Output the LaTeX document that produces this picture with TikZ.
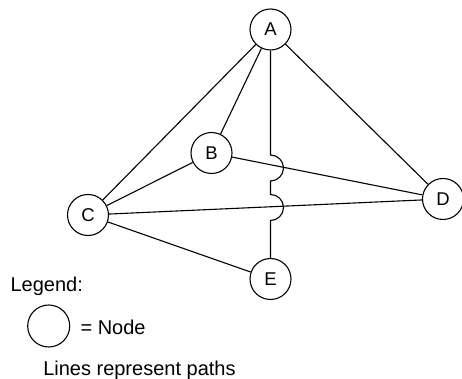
\documentclass[tikz,border=0pt]{standalone}
\usepackage{fontspec}
\setmainfont{Liberation Sans}
\begin{document}
\begin{tikzpicture}[x=1pt,y=1pt,line width=1.1pt,
  vtx/.style={circle,draw,minimum size=41pt,inner sep=0pt,font=\fontsize{18.5}{22}\selectfont},
  lbl/.style={anchor=base west,inner sep=0pt,font=\fontsize{20}{24}\selectfont}]
\useasboundingbox (0,0) rectangle (462,379);
\node[vtx] (A) at (270.5,349.5) {A};
\node[vtx] (B) at (211.5,226) {B};
\node[vtx] (C) at (88,164) {C};
\node[vtx] (D) at (443,180) {D};
\node[vtx] (E) at (270.5,100) {E};
\draw (A) -- (B);
\draw (A) -- (C);
\draw (A) -- (D);
\draw (B) -- (C);
\draw (B) -- (D);
\draw (C) -- (D);
\draw (C) -- (E);
\coordinate (j1) at (270.5,224);
\coordinate (j2) at (270.5,184.5);
\draw (A.south) -- (j1) arc[start angle=90,end angle=-90,radius=13]
  -- (j2) arc[start angle=90,end angle=-90,radius=13] -- (E.north);
\node[lbl] (leg) at (10,87.3) {Legend:};
\node[circle,draw,minimum size=42pt,inner sep=0pt] (legc) at (48.7,53) {};
\node[lbl] (legn) at (80,44) {= Node};
\node[lbl] (legl) at (42.7,3) {Lines represent paths};
\end{tikzpicture}
\end{document}
